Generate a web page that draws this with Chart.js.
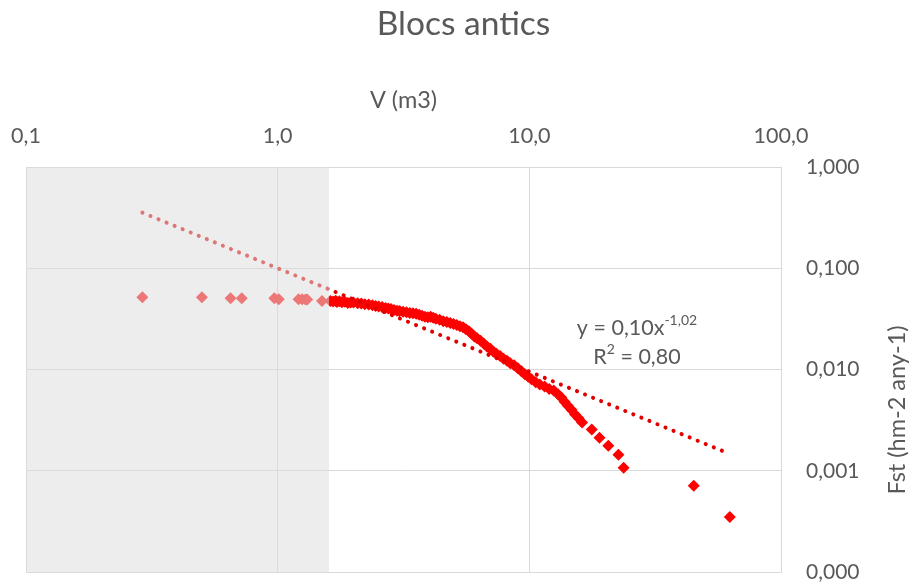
<!DOCTYPE html>
<html>
<head>
<meta charset="utf-8">
<script src="https://cdn.jsdelivr.net/npm/chart.js@4/dist/chart.umd.min.js"></script>
<style>
  html, body { margin: 0; padding: 0; background: #ffffff; }
  #wrap { width: 911px; height: 583px; position: relative; }
</style>
</head>
<body>
<div id="wrap"><canvas id="c"></canvas></div>
<script>
// ---- data ----
const titleText = 'Blocs antics';
const xAxisTitle = 'V (m3)';
const yAxisTitle = 'Fst (hm-2 any-1)';
const xTicks = [0.1, 1, 10, 100];
const yTicks = [0.0001, 0.001, 0.01, 0.1, 1];
const shadedUpTo = 1.6; // grey band from the left edge to this volume

const blockVolumes = [
  0.29, 0.50, 0.65, 0.72, 0.97, 1.01, 1.21, 1.25, 1.29, 1.31, 1.50,
  1.62, 1.66, 1.70, 1.72, 1.76, 1.80, 1.85, 1.90, 1.95, 2.00,
  2.08, 2.15, 2.22, 2.30, 2.38, 2.45, 2.52, 2.60, 2.68, 2.75,
  2.82, 2.90, 2.98, 3.05, 3.15, 3.25, 3.35, 3.45, 3.55, 3.65,
  3.75, 3.85, 3.95, 4.05, 4.15, 4.25, 4.40, 4.55, 4.70, 4.85,
  5.00, 5.15, 5.30, 5.45, 5.60, 5.75, 5.90, 6.05, 6.20, 6.40,
  6.60, 6.80, 7.00, 7.20, 7.40, 7.65, 7.90, 8.15, 8.40, 8.70,
  9.00, 9.30, 9.60, 9.90, 10.2, 10.6, 11.0, 11.5, 12.0, 12.5,
  13.0, 13.4, 13.8, 14.2, 14.7, 15.2, 15.7, 16.2, 17.7, 19.0,
  20.6, 22.6, 23.7, 45.0, 62.6
];
const frequencies = [
  0.0516, 0.0516, 0.0505, 0.0505, 0.0505, 0.0495, 0.0495, 0.0495, 0.0490, 0.0490, 0.0475,
  0.0475, 0.0470, 0.0478, 0.0465, 0.0472, 0.0462, 0.0468, 0.0455, 0.0460, 0.0458,
  0.0450, 0.0448, 0.0440, 0.0438, 0.0430, 0.0425, 0.0418, 0.0415, 0.0405, 0.0400,
  0.0395, 0.0388, 0.0380, 0.0378, 0.0372, 0.0368, 0.0362, 0.0360, 0.0355, 0.0348,
  0.0340, 0.0332, 0.0328, 0.0332, 0.0325, 0.0318, 0.0310, 0.0300, 0.0295, 0.0288,
  0.0282, 0.0275, 0.0268, 0.0262, 0.0250, 0.0238, 0.0225, 0.0212, 0.0203, 0.0192,
  0.0180, 0.0168, 0.0160, 0.0150, 0.0143, 0.0136, 0.0128, 0.0122, 0.0115, 0.0110,
  0.0103, 0.0096, 0.0090, 0.0085, 0.0080, 0.0075, 0.0071, 0.0068, 0.0064, 0.0062,
  0.0057, 0.0053, 0.0048, 0.0044, 0.0040, 0.0036, 0.0033, 0.0030, 0.00255, 0.00212,
  0.00177, 0.00144, 0.00107, 0.00071, 0.00035
];
// power trend line y = 0,10 x^-1,02 (straight on log-log axes): its two end points
const trendX = [0.29, 62];
const trendY = [0.354, 0.00148];
const equationLine1 = 'y = 0,10x';
const equationExp = '-1,02';
const equationLine2a = 'R';
const equationLine2b = ' = 0,80';

// ---- styles ----
const FONT = 'Lato, Carlito, Calibri, "Liberation Sans", sans-serif';
const TEXT = '#595959';
const GRID = '#d9d9d9';

const scatterData = blockVolumes.map((v, i) => ({ x: v, y: frequencies[i] }));
const trendData = trendX.map((v, i) => ({ x: v, y: trendY[i] }));

const decorPlugin = {
  id: 'decor',
  afterDatasetsDraw(chart) {
    const { ctx, chartArea, scales } = chart;
    const x0 = chartArea.left;
    const x1 = scales.x.getPixelForValue(shadedUpTo);
    ctx.save();
    ctx.fillStyle = 'rgba(221,221,221,0.535)';
    ctx.fillRect(x0, chartArea.top, x1 - x0, chartArea.bottom - chartArea.top);
    ctx.restore();
  },
  afterDraw(chart) {
    const { ctx } = chart;
    ctx.save();
    ctx.fillStyle = TEXT;
    const big = '21.5px ' + FONT;
    const small = '14px ' + FONT;
    ctx.textBaseline = 'alphabetic';
    ctx.textAlign = 'left';
    // equation line 1
    ctx.font = big;
    const w1 = ctx.measureText(equationLine1).width;
    ctx.font = small;
    const we = ctx.measureText(equationExp).width;
    const cx = 637;
    let sx = cx - (w1 + we) / 2;
    ctx.font = big;
    ctx.fillText(equationLine1, sx, 335);
    ctx.font = small;
    ctx.fillText(equationExp, sx + w1, 325);
    // equation line 2
    ctx.font = big;
    const wa = ctx.measureText(equationLine2a).width;
    const wb = ctx.measureText(equationLine2b).width;
    ctx.font = small;
    const w2 = ctx.measureText('2').width;
    sx = cx - (wa + w2 + wb) / 2;
    ctx.font = big;
    ctx.fillText(equationLine2a, sx, 364);
    ctx.font = small;
    ctx.fillText('2', sx + wa, 354);
    ctx.font = big;
    ctx.fillText(equationLine2b, sx + wa + w2, 364);
    // right axis title, reading bottom to top
    ctx.translate(897, 410);
    ctx.rotate(-Math.PI / 2);
    ctx.font = '23.5px ' + FONT;
    ctx.textAlign = 'center';
    ctx.textBaseline = 'middle';
    ctx.fillText(yAxisTitle, 0, 0);
    ctx.restore();
  }
};

new Chart(document.getElementById('c'), {
  data: {
    datasets: [
      {
        type: 'scatter',
        label: 'Fst',
        data: scatterData,
        pointStyle: 'rectRot',
        pointRadius: 6,
        pointHoverRadius: 6,
        backgroundColor: '#ff0000',
        borderColor: '#ff0000',
        borderWidth: 0,
        order: 2
      },
      {
        type: 'line',
        label: 'Trend',
        data: trendData,
        borderColor: '#e00000',
        borderWidth: 4,
        borderDash: [0.1, 8.6],
        borderCapStyle: 'round',
        pointRadius: 0,
        fill: false,
        tension: 0,
        order: 1
      }
    ]
  },
  options: {
    responsive: true,
    maintainAspectRatio: false,
    animation: false,
    layout: { padding: { left: 26, right: 10, top: 0, bottom: 11 } },
    plugins: {
      legend: { display: false },
      tooltip: { enabled: false },
      title: {
        display: true,
        text: titleText,
        color: TEXT,
        font: { family: FONT, size: 33.5, weight: 'normal', lineHeight: 1.2 },
        padding: { top: 4, bottom: 5.8 }
      }
    },
    scales: {
      x: {
        type: 'logarithmic',
        position: 'top',
        min: 0.1,
        max: 100,
        afterBuildTicks: (s) => { s.ticks = xTicks.map(v => ({ value: v })); },
        afterFit: (s) => { s.height = 117; s.paddingLeft = 0; s.paddingRight = 0; s.paddingTop = 0; s.paddingBottom = 0; },
        ticks: {
          color: TEXT,
          font: { family: FONT, size: 21.5 },
          padding: 18,
          maxRotation: 0,
          autoSkip: false,
          callback: (v) => Number(v).toFixed(1).replace('.', ',')
        },
        grid: { color: GRID, lineWidth: 1, drawTicks: false },
        border: { display: true, color: GRID },
        title: {
          display: true,
          text: xAxisTitle,
          color: TEXT,
          font: { family: FONT, size: 23.5 },
          padding: { top: 36, bottom: 0 }
        }
      },
      y: {
        type: 'logarithmic',
        position: 'right',
        min: 0.0001,
        max: 1,
        afterBuildTicks: (s) => { s.ticks = yTicks.map(v => ({ value: v })); },
        afterFit: (s) => { s.width = 120; s.paddingLeft = 0; s.paddingRight = 0; s.paddingTop = 0; s.paddingBottom = 0; },
        ticks: {
          color: TEXT,
          font: { family: FONT, size: 21 },
          padding: 25,
          autoSkip: false,
          callback: (v) => Number(v).toFixed(3).replace('.', ',')
        },
        grid: { color: GRID, lineWidth: 1, drawTicks: false },
        border: { display: true, color: GRID }
      }
    }
  },
  plugins: [decorPlugin]
});
</script>
</body>
</html>
